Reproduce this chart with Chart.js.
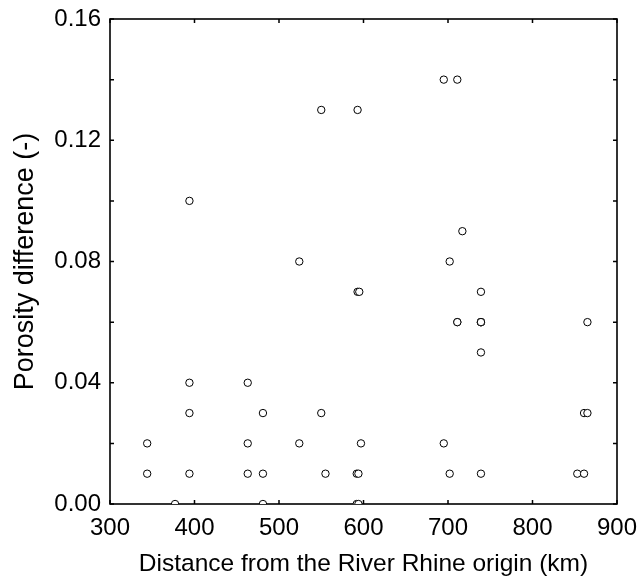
<!DOCTYPE html>
<html>
<head>
<meta charset="utf-8">
<script src="https://cdn.jsdelivr.net/npm/chart.js@4/dist/chart.umd.min.js"></script>
<style>
  html, body { margin: 0; padding: 0; background: #fff; }
  #wrap { width: 644px; height: 579px; }
</style>
</head>
<body>
<div id="wrap"><canvas id="myChart" width="644" height="579"></canvas></div>
<script>
// distance from origin (km) and porosity difference (-) per sample
var distance = [
  344, 344, 377, 394, 394, 394, 394,
  463, 463, 463, 481, 481, 481,
  524, 524, 550, 550, 555,
  593, 593, 595, 592, 594, 597, 592, 594,
  695, 711, 717, 702, 711, 711, 695, 702,
  739, 739, 739, 739, 739, 739, 739,
  853, 861, 861, 865, 865
];
var porosity = [
  0.02, 0.01, 0.00, 0.10, 0.04, 0.03, 0.01,
  0.04, 0.02, 0.01, 0.03, 0.01, 0.00,
  0.08, 0.02, 0.13, 0.03, 0.01,
  0.13, 0.07, 0.07, 0.01, 0.01, 0.02, 0.00, 0.00,
  0.14, 0.14, 0.09, 0.08, 0.06, 0.06, 0.02, 0.01,
  0.07, 0.06, 0.06, 0.05, 0.01, 0.06, 0.06,
  0.01, 0.01, 0.03, 0.03, 0.06
];
var xTicks = [300, 400, 500, 600, 700, 800, 900];
var yTicks = [0, 0.02, 0.04, 0.06, 0.08, 0.10, 0.12, 0.14, 0.16];
var yLabelled = [0, 0.04, 0.08, 0.12, 0.16];

var points = distance.map(function(d, i) { return { x: d, y: porosity[i] }; });

var fontFamily = '"Liberation Sans", Arial, sans-serif';

// frame round the plot with small inward ticks on all four sides
var framePlugin = {
    id: 'frame',
    beforeDatasetsDraw: function(chart) {
        var c = chart.ctx, a = chart.chartArea;
        var xs = chart.scales.x, ys = chart.scales.y;
        c.save();
        c.strokeStyle = '#000';
        c.lineWidth = 1.6;
        c.strokeRect(a.left, a.top, a.right - a.left, a.bottom - a.top);
        c.lineWidth = 1.5;
        c.beginPath();
        xTicks.forEach(function(v) {
            var px = xs.getPixelForValue(v);
            c.moveTo(px, a.bottom); c.lineTo(px, a.bottom - 4);
            c.moveTo(px, a.top); c.lineTo(px, a.top + 4);
        });
        yTicks.forEach(function(v) {
            var py = ys.getPixelForValue(v);
            c.moveTo(a.left, py); c.lineTo(a.left + 4, py);
            c.moveTo(a.right, py); c.lineTo(a.right - 4, py);
        });
        c.stroke();
        c.restore();
    }
};

var ctx = document.getElementById('myChart').getContext('2d');
var myChart = new Chart(ctx, {
    type: 'scatter',
    data: {
        datasets: [{
            data: points,
            pointStyle: 'circle',
            pointRadius: 3.7,
            pointBorderWidth: 1,
            pointBorderColor: '#000',
            pointBackgroundColor: '#fff'
        }]
    },
    options: {
        responsive: false,
        animation: false,
        layout: { padding: { top: 19, right: 27, left: 0, bottom: 0 } },
        plugins: { legend: { display: false }, tooltip: { enabled: false } },
        scales: {
            x: {
                type: 'linear',
                min: 300, max: 900,
                afterFit: function(s) { s.height = 75; s.paddingLeft = 0; s.paddingRight = 0; },
                afterBuildTicks: function(s) { s.ticks = xTicks.map(function(v) { return { value: v }; }); },
                grid: { display: false, drawTicks: false },
                border: { display: false },
                ticks: {
                    color: '#000', padding: 10, maxRotation: 0, autoSkip: false,
                    font: { family: fontFamily, size: 24 },
                    callback: function(v) { return String(v); }
                },
                title: {
                    display: true,
                    text: 'Distance from the River Rhine origin (km)',
                    color: '#000',
                    font: { family: fontFamily, size: 24.5 },
                    padding: { top: 0, bottom: 0 }
                }
            },
            y: {
                type: 'linear',
                min: 0, max: 0.16,
                afterFit: function(s) { s.width = 110; s.paddingTop = 0; s.paddingBottom = 0; },
                afterBuildTicks: function(s) { s.ticks = yTicks.map(function(v) { return { value: v }; }); },
                grid: { display: false, drawTicks: false },
                border: { display: false },
                ticks: {
                    color: '#000', padding: 9, autoSkip: false,
                    font: { family: fontFamily, size: 24 },
                    callback: function(v) {
                        var hit = yLabelled.some(function(l) { return Math.abs(l - v) < 1e-9; });
                        return hit ? v.toFixed(2) : '';
                    }
                },
                title: {
                    display: true,
                    text: 'Porosity difference (-)',
                    color: '#000',
                    font: { family: fontFamily, size: 27 },
                    padding: { top: 9, bottom: 0 }
                }
            }
        }
    },
    plugins: [framePlugin]
});
</script>
</body>
</html>
